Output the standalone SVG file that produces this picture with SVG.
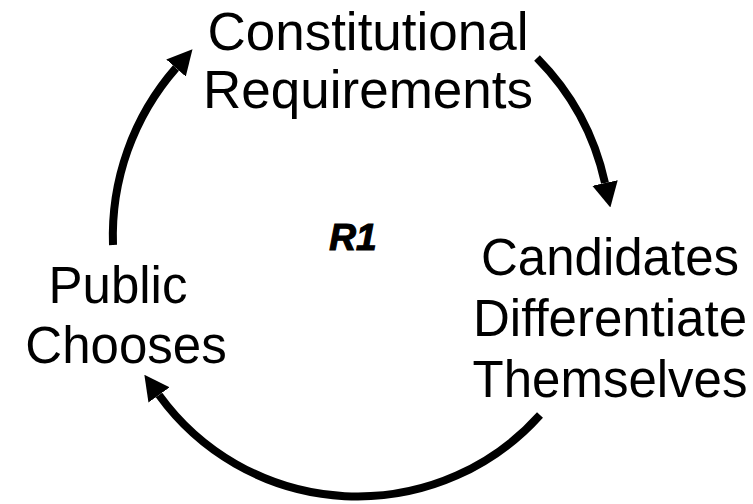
<svg xmlns="http://www.w3.org/2000/svg" width="753" height="504" viewBox="0 0 753 504">
  <style>
    .lbl { font-family: "Liberation Sans", Arial, sans-serif; font-size: 51px; fill: #000; text-anchor: middle; }
    .top { font-size: 53px; }
    .loop { font-family: "Liberation Sans", Arial, sans-serif; font-size: 37px; font-weight: bold; font-style: italic; fill: #000; stroke: #000; stroke-width: 1.2; text-anchor: middle; }
    .arc { fill: none; stroke: #000; stroke-width: 8; }
  </style>
  <defs>
    <marker id="head" markerUnits="userSpaceOnUse" viewBox="0 0 25 26" refX="0" refY="13" markerWidth="25" markerHeight="26" orient="auto">
      <path d="M0,0 L25,13 L0,26 Z" fill="#000"/>
    </marker>
  </defs>
  <rect width="753" height="504" fill="#fff"/>
  <g id="connectors">
    <path class="arc" d="M 537 58 A 255 255 0 0 1 605 183" marker-end="url(#head)"/>
    <path class="arc" d="M 540 415 A 245 245 0 0 1 159 395" marker-end="url(#head)"/>
    <path class="arc" d="M 113 245 A 255 255 0 0 1 176 68" marker-end="url(#head)"/>
  </g>
  <g id="node-constitutional">
    <text class="lbl top" x="368" y="50">Constitutional</text>
    <text class="lbl top" x="368" y="108">Requirements</text>
  </g>
  <g id="node-candidates">
    <text class="lbl" x="610" y="275">Candidates</text>
    <text class="lbl" x="610" y="336">Differentiate</text>
    <text class="lbl" x="610" y="397">Themselves</text>
  </g>
  <g id="node-public">
    <text class="lbl" x="118" y="303">Public</text>
    <text class="lbl" x="126" y="363">Chooses</text>
  </g>
  <g id="loop-label">
    <text class="loop" x="353" y="250">R1</text>
  </g>
</svg>
